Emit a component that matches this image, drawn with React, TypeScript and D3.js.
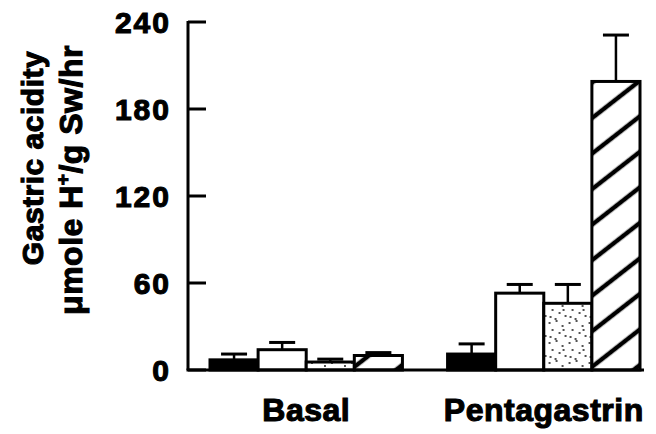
import React from 'react';
import * as d3 from 'd3';

// group labels and the four treatment series (drawn left to right in each group)
const groups = ["Basal", "Pentagastrin"];
const series = ["solid", "open", "stippled", "hatched"];

// mean gastric acidity per series
const basalMeans = [7, 14, 5.5, 10];
const pentaMeans = [11, 53, 46, 199];

// upper error (SEM) per series
const basalErr = [4, 5, 2, 2];
const pentaErr = [7, 6, 13, 32];

const yTicks = [0, 60, 120, 180, 240];

const fills: Record<string, string> = {
  solid: "#000",
  open: "#fff",
  stippled: "url(#stipple)",
  hatched: "url(#hatch)"
};

// fixed speckle positions for the stippled texture
const specks = [[2, 3], [9, 1], [15, 6], [5, 10], [12, 13], [18, 16], [3, 17], [8, 19], [16, 10]];

export default function App() {
  const width = 656, height = 434;
  const font = "'Liberation Sans', Arial, Helvetica, sans-serif";

  const table = groups.map((g, i) => ({
    group: g,
    means: i === 0 ? basalMeans : pentaMeans,
    errs: i === 0 ? basalErr : pentaErr
  }));

  const y = d3.scaleLinear().domain([0, 240]).range([370, 22]);
  const x0 = d3.scaleBand().domain(groups).range([210, 640]).paddingInner(0.19);
  const x1 = d3.scaleBand().domain(series).range([0, x0.bandwidth()]);

  const axisX = 188;
  const heavy = { fontFamily: font, fontWeight: "bold" as const, stroke: "#000", strokeWidth: 1.1 };

  return (
    <svg width={width} height={height} style={{ position: "absolute", left: 0, top: 0, background: "#fff" }}>
      <defs>
        <pattern id="hatch" patternUnits="userSpaceOnUse" width="28" height="28" patternTransform="rotate(-38)">
          <rect width="28" height="28" fill="#fff" />
          <line x1="0" y1="14" x2="28" y2="14" stroke="#000" strokeWidth="4.5" />
        </pattern>
        <pattern id="stipple" patternUnits="userSpaceOnUse" width="20" height="20">
          <rect width="20" height="20" fill="#fff" />
          {specks.map((p, i) => (
            <circle key={i} cx={p[0]} cy={p[1]} r={0.9} fill="#000" />
          ))}
        </pattern>
      </defs>

      {/* y axis */}
      <line x1={axisX} y1={y(240) - 1} x2={axisX} y2={y(0)} stroke="#000" strokeWidth={3} />
      {yTicks.map(t => (
        <g key={t}>
          <line x1={axisX} x2={axisX + 18} y1={y(t)} y2={y(t)} stroke="#000" strokeWidth={3} />
          <text x={171} y={y(t) + 3} textAnchor="end" dominantBaseline="middle"
            fontSize={30} letterSpacing={2} {...heavy}>{t}</text>
        </g>
      ))}

      {/* bars */}
      {table.map(d => (
        <g key={d.group} transform={"translate(" + x0(d.group) + ",0)"}>
          {series.map((s, i) => {
            const bx = x1(s) as number;
            const bw = x1.bandwidth();
            const top = y(d.means[i]);
            const cap = y(d.means[i] + d.errs[i]);
            const cx = bx + bw / 2;
            return (
              <g key={s}>
                <line x1={cx} x2={cx} y1={top} y2={cap} stroke="#000" strokeWidth={2.5} />
                <line x1={cx - 13} x2={cx + 13} y1={cap} y2={cap} stroke="#000" strokeWidth={3} />
                <rect x={bx} y={top} width={bw} height={y(0) - top}
                  fill={fills[s]} stroke="#000" strokeWidth={3} />
              </g>
            );
          })}
        </g>
      ))}

      {/* baseline */}
      <line x1={axisX - 1.5} x2={644} y1={y(0)} y2={y(0)} stroke="#000" strokeWidth={3} />

      {/* x labels */}
      {groups.map(g => (
        <text key={g} x={(x0(g) as number) + x0.bandwidth() / 2} y={421} textAnchor="middle"
          fontSize={32} letterSpacing={0.5} {...heavy}>{g}</text>
      ))}

      {/* y titles */}
      <text transform="translate(43,158) rotate(-90)" textAnchor="middle"
        fontSize={30} letterSpacing={0.5} {...heavy}>Gastric acidity</text>
      <text transform="translate(82,180) rotate(-90)" textAnchor="middle"
        fontSize={32} letterSpacing={0.5} {...heavy}>
        μmole H<tspan fontSize={19} dy={-13}>+</tspan><tspan dy={13}>/g Sw/hr</tspan>
      </text>
    </svg>
  );
}
